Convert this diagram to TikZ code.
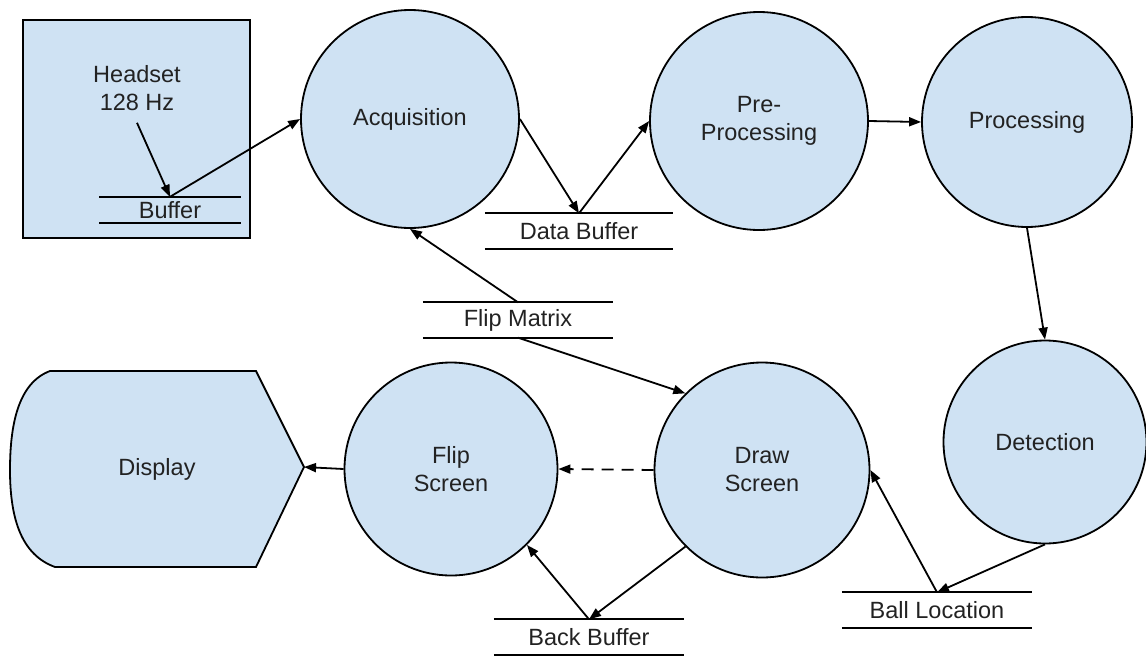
\documentclass[tikz,border=0pt]{standalone}
\usepackage{fontspec}
\setmainfont{Liberation Sans}
\usetikzlibrary{arrows.meta}
\definecolor{boxblue}{HTML}{CFE2F3}
\definecolor{txt}{HTML}{222222}
\newcommand\fsz{\fontsize{23.5}{28}\selectfont}
\begin{document}
\begin{tikzpicture}[x=1pt,y=-1pt,
  lw/.style={line width=1.8pt},
  proc/.style={circle, draw, lw, fill=boxblue, minimum size=#1, inner sep=0pt, align=center, font=\fsz, text=txt},
  store/.style={minimum width=#1, minimum height=35pt, inner sep=0pt, font=\fsz, text=txt},
  flow/.style={lw, -{Triangle[length=12pt,width=9pt]}},
  plain/.style={font=\fsz, text=txt, align=center, inner sep=0pt}]
\useasboundingbox (0,0) rectangle (1146,656);

% headset box
\node[draw, line width=2.4pt, fill=boxblue, minimum width=227pt, minimum height=218pt, inner sep=0pt] (hbox) at (136.5,129) {};
\node[plain] (hs) at (137,88) {Headset\\128 Hz};
\node[store=141pt, minimum height=26pt] (buf) at (170,210) {Buffer};

% processes
\node[proc=218pt] (acq) at (410,119) {Acquisition};
\node[proc=218pt] (pre) at (759,121) {Pre-\\Processing};
\node[proc=210pt] (prc) at (1027,122) {Processing};
\node[proc=203pt] (det) at (1045,442) {Detection};
\node[proc=215pt] (drw) at (762,470) {Draw\\Screen};
\node[proc=213pt] (flp) at (451,469) {Flip\\Screen};

% display
\draw[lw, fill=boxblue] (256,371) -- (304,467) -- (256,567) -- (55,567)
  .. controls (22,555) and (10,520) .. (10,470)
  .. controls (10,425) and (18,383) .. (50,371) -- cycle;
\coordinate (dtip) at (304,467);
\node[plain] (disp) at (157,469) {Display};

% stores
\node[store=188pt] (db) at (579,231) {Data Buffer};
\node[store=190pt] (fm) at (518,320) {Flip Matrix};
\node[store=190pt] (bb) at (589,637) {Back Buffer};
\node[store=190pt] (bl) at (937,610) {Ball Location};
\foreach \s in {buf,db,fm,bb,bl}
  \draw[lw] (\s.north west) -- (\s.north east) (\s.south west) -- (\s.south east);

% connectors
\draw[flow] (hs.south) ++(0,12) coordinate (hsa) -- (buf.north);
\draw[flow] (buf.north) -- (acq.west);
\draw[flow] (acq.east) -- (db.north);
\draw[flow] (db.north) -- (pre.west);
\draw[flow] (pre.east) -- (prc.west);
\draw[flow] (prc.south) -- (det.north);
\draw[flow] (det.south) -- (bl.north);
\draw[flow] (bl.north) -- (drw.east);
\draw[flow, dash pattern=on 12pt off 8pt] (drw.west) -- (flp.east);
\draw[flow] (flp.west) -- (dtip);
\draw[flow] (fm.north) -- (acq.south);
\draw[flow] (fm.south) -- (drw.135);
\draw[flow] (drw.225) -- (bb.north);
\draw[flow] (bb.north) -- (flp.-45);
\end{tikzpicture}
\end{document}
